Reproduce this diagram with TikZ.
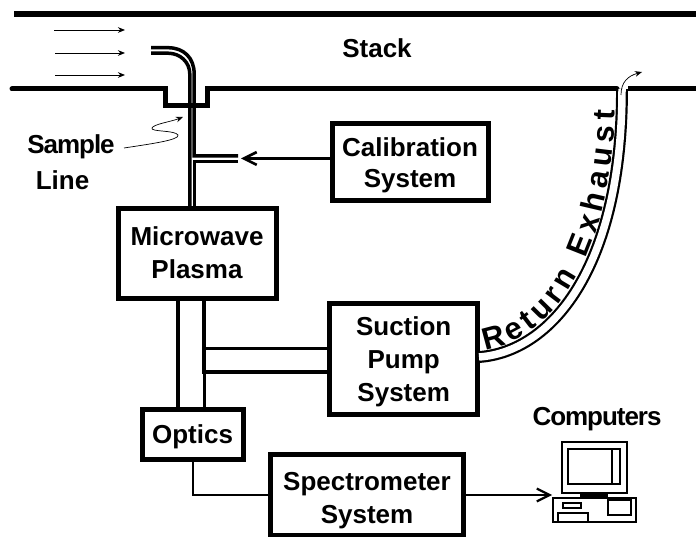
\documentclass[tikz,border=0pt]{standalone}
\usepackage{fontspec}
\setmainfont{Liberation Sans}
\newfontfamily\tightfont[LetterSpace=-4]{Liberation Sans}
\usepackage{tikz}
\usetikzlibrary{decorations.text}
\usetikzlibrary {arrows.meta}
\tikzset{unit box/.style={
    draw,
    line width=5pt,
    rectangle,
    inner sep=0pt,
    outer sep=0pt,
    align=center,
    text depth=6pt,
    font=\fontsize{26}{33}\selectfont\bfseries
  },
  label text/.style={
    inner sep=0pt,
    align=center,
    font=\fontsize{26}{32}\selectfont\bfseries
  },
  wall/.style={line width=5pt},
  pipe/.style={line width=3.5pt},
  wire/.style={line width=2pt},
  flow/.style={-{Stealth[length=2.5mm,width=2mm]},line width=0.9pt},
  feed/.style={-{Straight Barb[length=4.5mm,width=4.5mm]},line width=2.6pt},
  tube wall/.style={line width=3.5pt},
  exhaust/.style={double,double distance=7.5pt,line width=2.2pt},
  part/.style={line width=1.6pt}
}
\begin{document}
\begin{tikzpicture}[x=1pt,y=-1pt]
      \useasboundingbox (0,0) rectangle (696,537);
      % stack walls
      \draw[line width=6pt] (14,14) -- (696,14);
      \draw[wall,line cap=round] (12,89) -- (165,89) -- (165,106) -- (207,106) -- (207,89) -- (617,89);
      \draw[wall] (628,89) -- (696,89);
      \node[label text] (stack) at (377,48) {Stack};
      \coordinate (flowa) at (54,30);
      \coordinate (flowb) at (55,53);
      \coordinate (flowc) at (55,75);
      \coordinate (flowaend) at (125,30);
      \coordinate (flowbend) at (125,53);
      \coordinate (flowcend) at (125,75);
      \draw[flow] (flowa) -- (flowaend);
      \draw[flow] (flowb) -- (flowbend);
      \draw[flow] (flowc) -- (flowcend);
      % boxes
      \node[unit box,minimum width=158pt,minimum height=90.5pt,text height=55pt] (plasma) at (197,253.7) {Microwave\\Plasma};
      \node[unit box,minimum width=156pt,minimum height=77pt,text height=57pt] (calib) at (410,162.5) {Calibration\\[-2pt]System};
      \node[unit box,minimum width=148.5pt,minimum height=110pt,text height=90pt] (pump) at (403.7,359) {Suction\\Pump\\System};
      \node[unit box,minimum width=101pt,minimum height=50pt,text height=24pt] (optics) at (192.5,434) {Optics};
      \node[unit box,minimum width=193.5pt,minimum height=80.5pt,text height=62pt] (spectro) at (367,495) {Spectrometer\\System};
      % sample line
      \coordinate (inlettop) at (151,47.7);
      \coordinate (inletlow) at (151,53.2);
      \coordinate (branchtop) at (238,156);
      \coordinate (branchlow) at (238,161.5);
      \draw[tube wall] (inlettop) -- (168,47.7) .. controls (184,47.7) and (194.2,58) .. (194.2,74) |- (branchtop);
      \draw[tube wall] (inletlow) -- (168,53.2) .. controls (180,53.2) and (189.8,62) .. (189.8,74) -- (189.8,206);
      \draw[tube wall,line width=3pt] (branchlow) -| ([xshift=-2.8pt]plasma.north);
      \node[label text,font=\fontsize{26}{32}\selectfont\tightfont\bfseries] (sample) at (71,147) {Sample};
      \node[label text] (line) at (62.5,180) {Line};
      \coordinate (curla) at (124,148);
      \coordinate (curlb) at (183,117);
      \draw[flow,line width=0.7pt] (curla) .. controls (150,144) and (180,140) .. (178,135) .. controls (175,130) and (150,132) .. (152,128) .. controls (154,124) and (170,122) .. (curlb);
      % connections
      \draw[feed] (calib.west |- 0,158.5) -- (241,158.5);
      \draw[pipe] ([xshift=-19pt]plasma.south) -- ([xshift=-14.5pt]optics.north);
      \draw[pipe] ([xshift=7pt]plasma.south) |- ([yshift=-13pt]pump.west);
      \draw[pipe,line width=3pt] ([xshift=11.5pt]optics.north) |- ([yshift=11pt]pump.west);
      \draw[wire] (optics.south) |- (spectro.west);
      \draw[feed,line width=2.2pt] (spectro.east) -- (552,495);
      % return exhaust
      \coordinate (exhausttop) at (622,89);
      \coordinate (pumpout) at (479,357);
      \draw[exhaust] (pumpout) .. controls (550,352) and (622,270) .. (exhausttop);
      \path[decorate,decoration={text along path,raise=6.5pt,
        text align={fit to path,left indent=8pt,right indent=22pt},
        text={|\fontsize{31}{34}\selectfont\bfseries|Return Exhaust}}]
        (pumpout) .. controls (550,352) and (622,270) .. (exhausttop);
      \coordinate (ventend) at (642,72);
      \draw[flow,line width=0.7pt] (621,95) .. controls (621,82) and (628,76) .. (ventend);
      % computer
      \node[label text,font=\fontsize{26}{32}\selectfont\tightfont\bfseries] (computers) at (597,419) {Computers};
      \draw[part] (562,442) rectangle (627,493);
      \draw[part] (568,449) rectangle (620,484);
      \draw[part] (612,449) -- (612,484);
      \fill (580,492) rectangle (608,499);
      \draw[part] (553,498) rectangle (636,522);
      \draw[part] (608,500) rectangle (631,515);
      \draw[part] (563,503) rectangle (581,508);
      \draw[part] (558,513) rectangle (588,522);
    \end{tikzpicture}
\end{document}
